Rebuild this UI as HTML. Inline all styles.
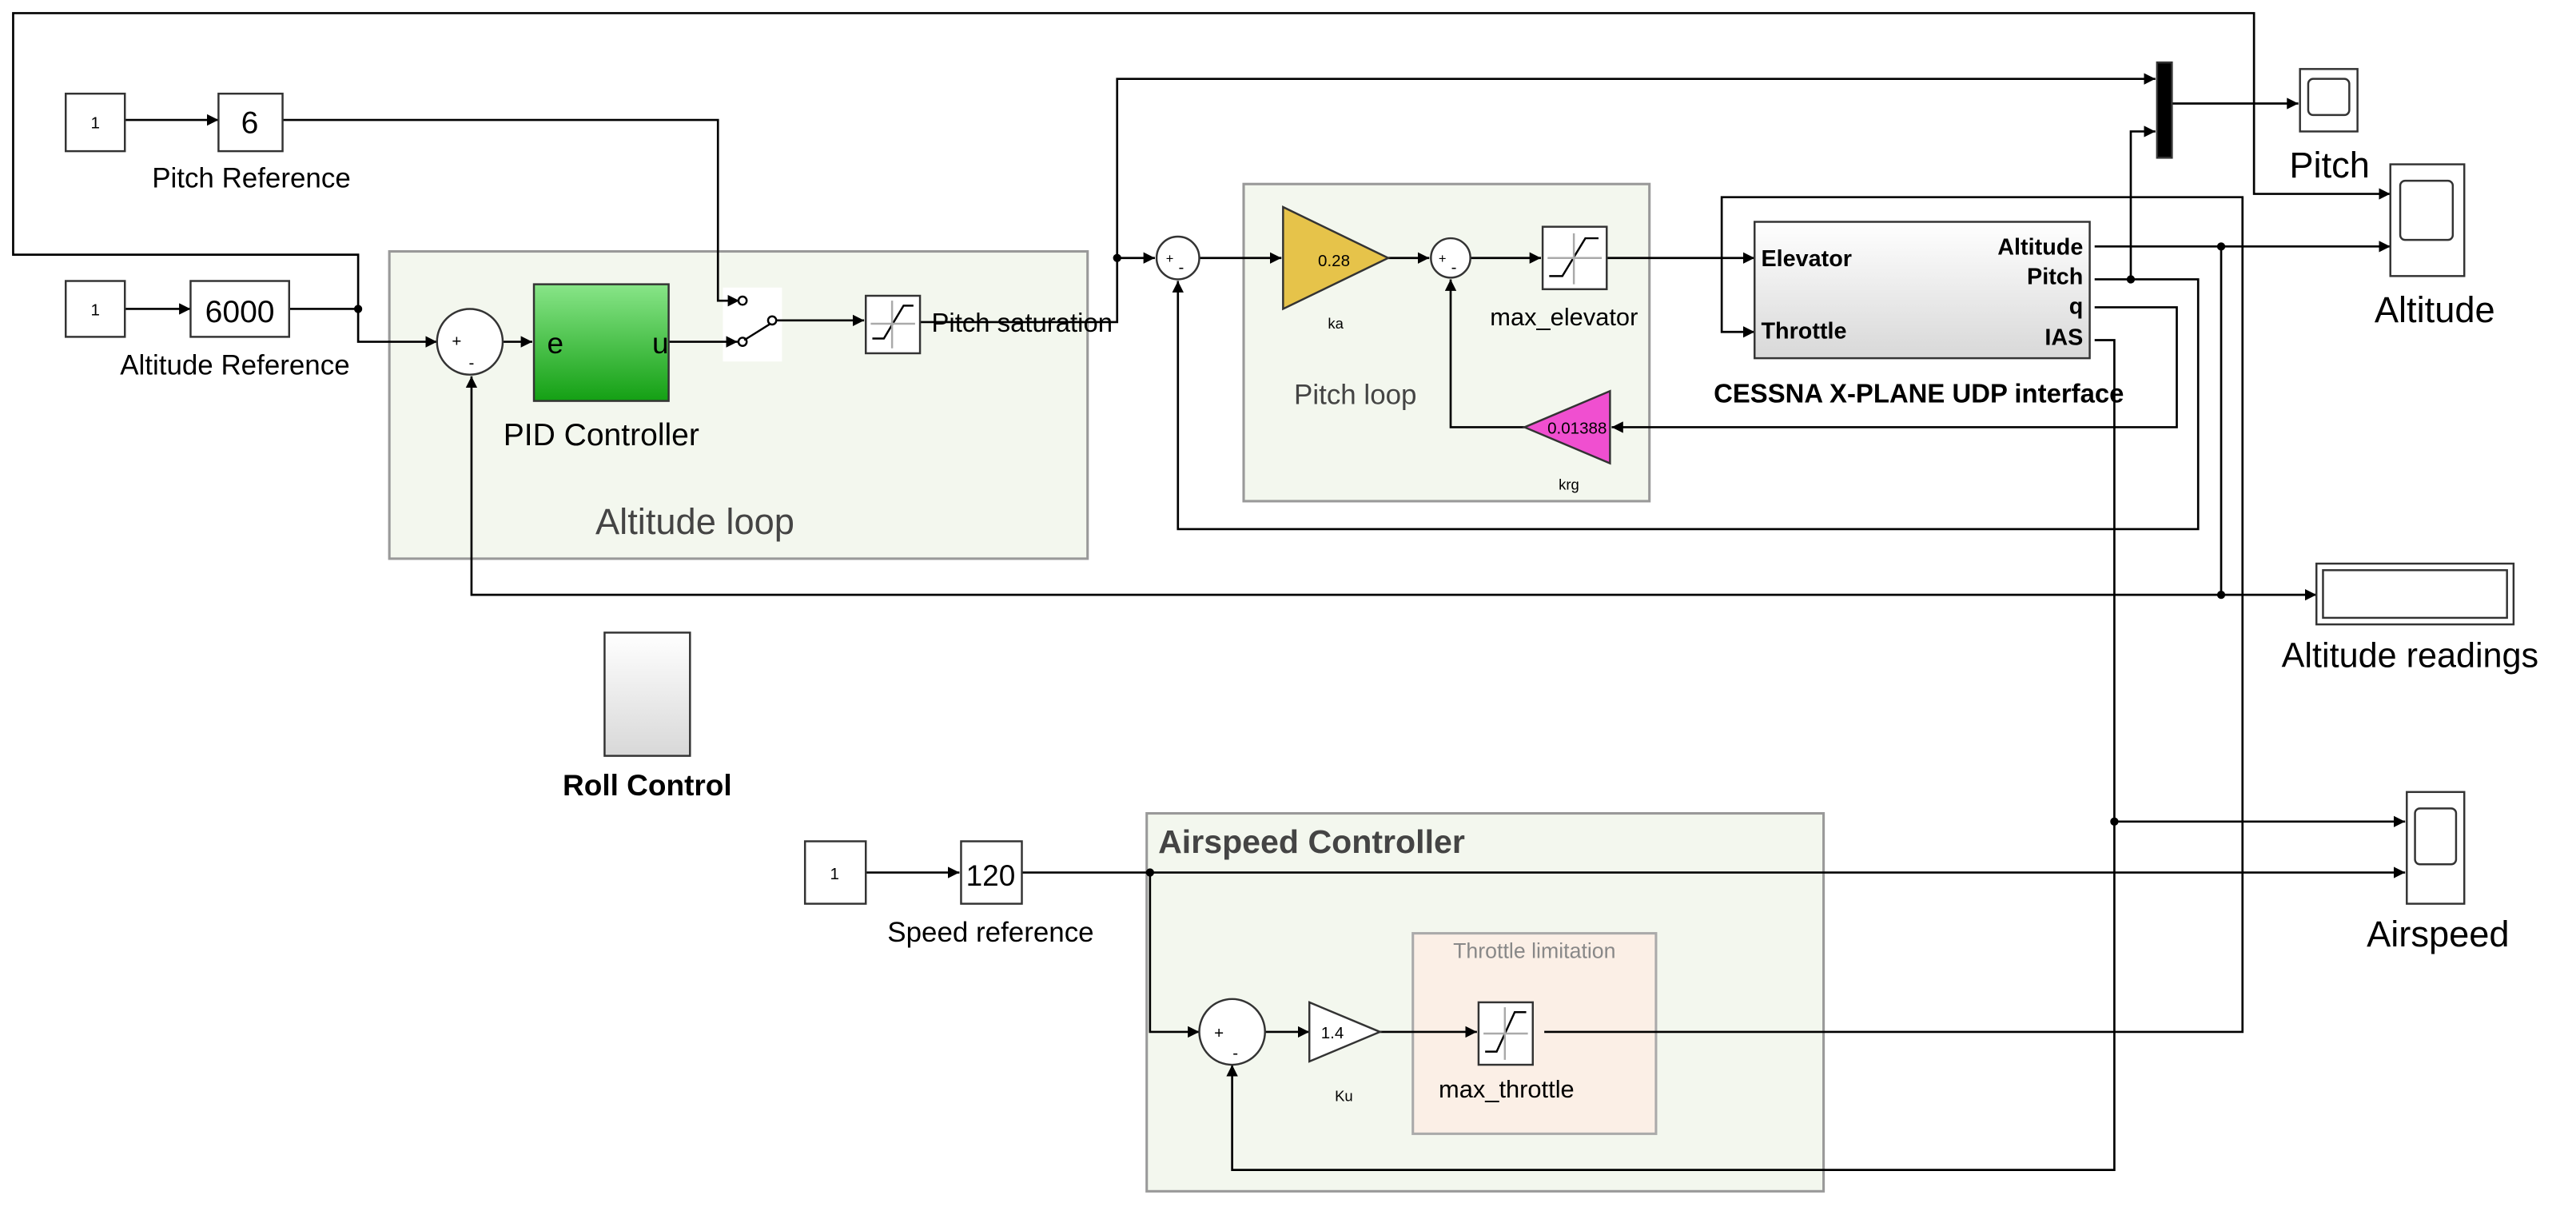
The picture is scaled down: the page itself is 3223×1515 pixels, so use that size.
<!DOCTYPE html>
<html><head><meta charset="utf-8"><style>
html,body{margin:0;padding:0;background:#fff;}
svg{display:block;}
text{font-family:"Liberation Sans",Arial,sans-serif;}
</style></head><body>
<svg width="3223" height="1515" viewBox="0 0 1568 737" preserveAspectRatio="none" xmlns="http://www.w3.org/2000/svg">
<defs>
<marker id="a" viewBox="0 0 10 10" refX="10" refY="5" markerWidth="7" markerHeight="7" orient="auto" markerUnits="userSpaceOnUse"><path d="M0,0L10,5L0,10z" fill="#000"/></marker>
<linearGradient id="g" x1="0" y1="0" x2="0" y2="1"><stop offset="0" stop-color="#88e588"/><stop offset="1" stop-color="#14a014"/></linearGradient>
<linearGradient id="w" x1="0" y1="0" x2="0" y2="1"><stop offset="0" stop-color="#ffffff"/><stop offset="1" stop-color="#d8d8d8"/></linearGradient>
</defs>
<rect x="237" y="153" width="425" height="187" fill="#f3f7ee" stroke="#999" stroke-width="1.5"/>
<rect x="757" y="112" width="247" height="193" fill="#f3f7ee" stroke="#999" stroke-width="1.5"/>
<rect x="698" y="495" width="412" height="230" fill="#f3f7ee" stroke="#999" stroke-width="1.5"/>
<rect x="860" y="568" width="148" height="122" fill="#fbefe6" stroke="#aaa" stroke-width="1.5"/>
<rect x="440" y="175" width="36" height="45" fill="#fff"/>
<text x="423" y="325" font-size="22" fill="#444" text-anchor="middle">Altitude loop</text>
<text x="825" y="246" font-size="17" fill="#444" text-anchor="middle">Pitch loop</text>
<text x="705" y="519" font-size="20" fill="#444" font-weight="bold">Airspeed Controller</text>
<text x="934" y="583" font-size="13" fill="#888" text-anchor="middle">Throttle limitation</text>

<g fill="none" stroke="#000" stroke-width="1.3">
<polyline points="218,188 218,155 8,155 8,8 1372,8 1372,118 1455,118" marker-end="url(#a)"/>
<polyline points="76,73 133,73" marker-end="url(#a)"/>
<polyline points="172,73 437,73 437,183 450,183" marker-end="url(#a)"/>
<polyline points="76,188 116,188" marker-end="url(#a)"/>
<polyline points="176,188 218,188 218,208 266,208" marker-end="url(#a)"/>
<polyline points="306,208 324,208" marker-end="url(#a)"/>
<polyline points="407,208 449,208" marker-end="url(#a)"/>
<polyline points="473,195 526,195" marker-end="url(#a)"/>
<polyline points="560,196 680,196 680,48 1312,48" marker-end="url(#a)"/>
<polyline points="680,157 703,157" marker-end="url(#a)"/>
<polyline points="730,157 780,157" marker-end="url(#a)"/>
<polyline points="845,157 870,157" marker-end="url(#a)"/>
<polyline points="895,157 938,157" marker-end="url(#a)"/>
<polyline points="978,157 1068,157" marker-end="url(#a)"/>
<polyline points="940,628 1365,628 1365,120 1048,120 1048,202 1068,202" marker-end="url(#a)"/>
<polyline points="1275,187 1325,187 1325,260 981,260" marker-end="url(#a)"/>
<polyline points="928,260 883,260 883,170" marker-end="url(#a)"/>
<polyline points="1275,170 1338,170 1338,322 717,322 717,171" marker-end="url(#a)"/>
<polyline points="1297,170 1297,80 1312,80" marker-end="url(#a)"/>
<polyline points="1322,63 1399,63" marker-end="url(#a)"/>
<polyline points="1275,150 1455,150" marker-end="url(#a)"/>
<polyline points="1352,150 1352,362 1410,362" marker-end="url(#a)"/>
<polyline points="1352,362 287,362 287,229" marker-end="url(#a)"/>
<polyline points="1275,207 1287,207 1287,712 750,712 750,648" marker-end="url(#a)"/>
<polyline points="1287,500 1464,500" marker-end="url(#a)"/>
<polyline points="527,531 584,531" marker-end="url(#a)"/>
<polyline points="622,531 1464,531" marker-end="url(#a)"/>
<polyline points="700,531 700,628 730,628" marker-end="url(#a)"/>
<polyline points="770,628 797,628" marker-end="url(#a)"/>
<polyline points="840,628 899,628" marker-end="url(#a)"/>
</g>
<g fill="#000">
<circle cx="218" cy="188" r="2.5"/><circle cx="680" cy="157" r="2.5"/><circle cx="1297" cy="170" r="2.5"/>
<circle cx="1352" cy="150" r="2.5"/><circle cx="1352" cy="362" r="2.5"/><circle cx="1287" cy="500" r="2.5"/><circle cx="700" cy="531" r="2.5"/>
</g>
<g stroke="#333" stroke-width="1.2" fill="#fff">
<rect x="40" y="57" width="36" height="35"/><rect x="133" y="57" width="39" height="35"/>
<rect x="40" y="171" width="36" height="34"/><rect x="116" y="171" width="60" height="34"/>
<circle cx="286" cy="208" r="20"/>
<rect x="325" y="173" width="82" height="71" fill="url(#g)"/>
<rect x="527" y="180" width="33" height="35"/>
<circle cx="717" cy="157" r="13"/>
<polygon points="781,126 845,157 781,188" fill="#e6c34a"/>
<circle cx="883" cy="157" r="12"/>
<rect x="939" y="138" width="39" height="38"/>
<rect x="1068" y="135" width="204" height="83" fill="url(#w)"/>
<polygon points="980,238 928,260 980,282" fill="#f04fd0"/>
<rect x="1313" y="38" width="9" height="58" fill="#000"/>
<rect x="1400" y="42" width="35" height="38"/><rect x="1405" y="48" width="25" height="22" rx="3"/>
<rect x="1455" y="100" width="45" height="68"/><rect x="1461" y="110" width="32" height="36" rx="3"/>
<rect x="1410" y="343" width="120" height="37"/><rect x="1414" y="347" width="112" height="29"/>
<rect x="368" y="385" width="52" height="75" fill="url(#w)"/>
<rect x="490" y="512" width="37" height="38"/><rect x="585" y="512" width="37" height="38"/>
<circle cx="750" cy="628" r="20"/>
<polygon points="797,610 840,628 797,646"/>
<rect x="900" y="610" width="33" height="38"/>
<rect x="1465" y="482" width="35" height="68"/><rect x="1470" y="492" width="25" height="34" rx="3"/>
</g>
<g fill="none" stroke="#000" stroke-width="1.2">
<path d="M531,206 L538,206 L550,186 L556,186"/><path d="M543,183 V212 M530,197 H557" stroke="#aaa"/>
<path d="M943,168 L951,168 L965,145 L973,145"/><path d="M958,142 V173 M942,157 H975" stroke="#aaa"/>
<path d="M904,640 L911,640 L922,616 L929,616"/><path d="M916,613 V645 M903,629 H930" stroke="#aaa"/>
<circle cx="452" cy="183" r="2.5"/><circle cx="452" cy="208" r="2.5"/><circle cx="470" cy="195" r="2.5"/>
<line x1="453" y1="207" x2="469" y2="197"/>
</g>
<g font-size="10" text-anchor="middle">
<text x="58" y="78">1</text><text x="58" y="192">1</text><text x="508" y="535">1</text>
<text x="278" y="211">+</text><text x="287" y="224">-</text>
<text x="712" y="160" font-size="8">+</text><text x="719" y="166">-</text>
<text x="878" y="160" font-size="8">+</text><text x="885" y="166">-</text>
<text x="742" y="632">+</text><text x="752" y="644">-</text>
<text x="812" y="162">0.28</text><text x="960" y="264">0.01388</text>
<text x="813" y="200" font-size="9">ka</text><text x="955" y="298" font-size="9">krg</text>
<text x="818" y="670" font-size="9">Ku</text><text x="811" y="632">1.4</text>
</g>
<g font-size="17" text-anchor="middle">
<text x="152" y="81" font-size="19">6</text><text x="146" y="196" font-size="19">6000</text><text x="603" y="539" font-size="18">120</text>
<text x="153" y="114">Pitch Reference</text>
<text x="143" y="228">Altitude Reference</text>
<text x="366" y="271" font-size="19">PID Controller</text>
<text x="952" y="198" font-size="15">max_elevator</text>
<text x="917" y="668" font-size="15">max_throttle</text>
<text x="603" y="573">Speed reference</text>
<text x="1418" y="108" font-size="22">Pitch</text>
<text x="1482" y="196" font-size="22">Altitude</text>
<text x="1467" y="406" font-size="21">Altitude readings</text>
<text x="1484" y="576" font-size="22">Airspeed</text>
<text x="394" y="484" font-weight="bold" font-size="18">Roll Control</text>
<text x="1168" y="245" font-weight="bold" font-size="16">CESSNA X-PLANE UDP interface</text>
</g>
<text x="567" y="202" font-size="16">Pitch saturation</text>
<text x="333" y="215" font-size="18">e</text><text x="397" y="215" font-size="18">u</text>
<g font-size="14" font-weight="bold">
<text x="1072" y="162">Elevator</text><text x="1072" y="206">Throttle</text>
<g text-anchor="end"><text x="1268" y="155">Altitude</text><text x="1268" y="173">Pitch</text><text x="1268" y="191">q</text><text x="1268" y="210">IAS</text></g>
</g>
</svg>
</body></html>
